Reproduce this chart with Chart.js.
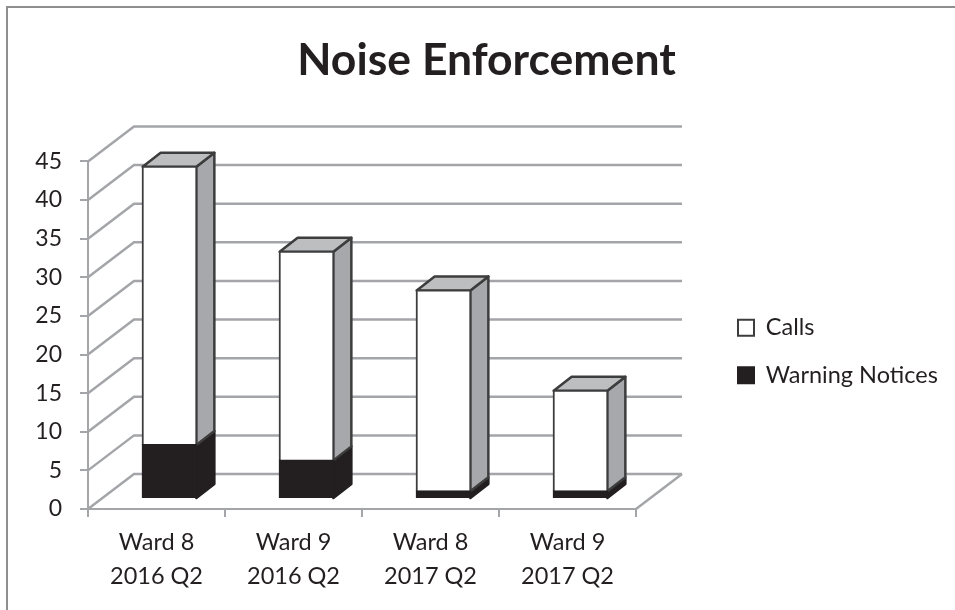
<!DOCTYPE html>
<html>
<head>
<meta charset="utf-8">
<title>Noise Enforcement</title>
<script src="https://cdn.jsdelivr.net/npm/chart.js@4"></script>
<style>
  html, body { margin: 0; background: #fff; }
  canvas { display: block; }
</style>
</head>
<body>
<canvas id="chart" width="955" height="610"></canvas>
<script>
const categories = [["Ward 8", "2016 Q2"], ["Ward 9", "2016 Q2"], ["Ward 8", "2017 Q2"], ["Ward 9", "2017 Q2"]];
const warningNotices = [7, 5, 1, 1];
const calls = [36, 27, 26, 13];

const ink = "#231f20";
const gridGray = "#a3a5a8";

// profundidad del grafico 3D
const wall = { dx: 46, dy: -35 };
const barShift = { dx: 13, dy: -10 };
const barDepth = { dx: 18, dy: -14 };

function poly(ctx, pts, fill, stroke) {
    ctx.beginPath();
    pts.forEach((p, i) => (i ? ctx.lineTo(p[0], p[1]) : ctx.moveTo(p[0], p[1])));
    ctx.closePath();
    ctx.fillStyle = fill;
    ctx.fill();
    ctx.strokeStyle = stroke;
    ctx.lineWidth = 2.5;
    ctx.lineJoin = "round";
    ctx.stroke();
}

const frame3d = {
    id: "frame3d",
    beforeDraw(chart) {
        const ctx = chart.ctx;
        ctx.save();
        ctx.strokeStyle = "#8f8f8f";
        ctx.lineWidth = 2;
        ctx.beginPath();
        ctx.moveTo(7, 610);
        ctx.lineTo(7, 7);
        ctx.lineTo(955, 7);
        ctx.stroke();
        ctx.restore();

        // mover leyenda y titulo a su sitio
        chart.legend.left = 714;
        chart.legend.right = 955;
        chart.legend.top = 292;
        chart.titleBlock.left = 9;
        chart.titleBlock.right = 964;
    },
    beforeDatasetsDraw(chart) {
        const ctx = chart.ctx;
        const yScale = chart.scales.y;
        const { left, right, bottom } = chart.chartArea;
        ctx.save();
        ctx.strokeStyle = gridGray;
        ctx.lineWidth = 2.5;
        // lineas de la pared izquierda y del fondo
        yScale.ticks.forEach(t => {
            const y = yScale.getPixelForValue(t.value);
            ctx.beginPath();
            ctx.moveTo(left, y);
            ctx.lineTo(left + wall.dx, y + wall.dy);
            ctx.lineTo(right + wall.dx, y + wall.dy);
            ctx.stroke();
        });
        // piso
        ctx.beginPath();
        ctx.moveTo(right, bottom);
        ctx.lineTo(right + wall.dx, bottom + wall.dy);
        ctx.stroke();
        ctx.restore();

        // caras lateral y superior de cada barra
        const metas = chart.getSortedVisibleDatasetMetas();
        ctx.save();
        metas.forEach((meta, m) => {
            const isTop = m === metas.length - 1;
            const dark = meta.index === 0;
            meta.data.forEach(bar => {
                const x2 = bar.x + bar.width / 2 + barShift.dx;
                const yTop = bar.y + barShift.dy;
                const yBase = bar.base + barShift.dy;
                poly(ctx, [[x2, yTop], [x2 + barDepth.dx, yTop + barDepth.dy], [x2 + barDepth.dx, yBase + barDepth.dy], [x2, yBase]],
                    dark ? ink : "#a6a8ab", dark ? ink : "#3d3d3d");
                if (isTop) {
                    const x1 = bar.x - bar.width / 2 + barShift.dx;
                    poly(ctx, [[x1, yTop], [x1 + barDepth.dx, yTop + barDepth.dy], [x2 + barDepth.dx, yTop + barDepth.dy], [x2, yTop]],
                        "#bcbec0", "#3d3d3d");
                }
            });
        });
        ctx.restore();
    },
    beforeDatasetDraw(chart) {
        chart.ctx.save();
        chart.ctx.translate(barShift.dx, barShift.dy);
    },
    afterDatasetDraw(chart) {
        chart.ctx.restore();
    }
};

new Chart(document.getElementById("chart"), {
    type: "bar",
    data: {
        labels: categories,
        datasets: [
            { label: "Warning Notices", data: warningNotices, backgroundColor: ink, borderColor: ink, borderWidth: 2, inflateAmount: 1 },
            { label: "Calls", data: calls, backgroundColor: "#ffffff", borderColor: "#3d3d3d", borderWidth: 2, inflateAmount: 1 }
        ]
    },
    options: {
        responsive: false,
        animation: false,
        categoryPercentage: 1,
        barPercentage: 0.392,
        layout: { padding: { left: 0, right: 107, top: 0, bottom: 0 } },
        plugins: {
            tooltip: { enabled: false },
            title: {
                display: true,
                text: "Noise Enforcement",
                color: ink,
                font: { family: "Lato", size: 44.5, weight: "bold" },
                padding: { top: 34, bottom: 74 }
            },
            legend: {
                position: "right",
                align: "start",
                reverse: true,
                labels: {
                    color: ink,
                    boxWidth: 16,
                    boxHeight: 16,
                    padding: 24,
                    font: { family: "Lato", size: 23.5 }
                }
            }
        },
        scales: {
            x: {
                stacked: true,
                afterFit(scale) { scale.height = 101; },
                grid: { drawOnChartArea: false, color: gridGray, lineWidth: 2, tickLength: 8 },
                border: { color: gridGray, width: 2 },
                ticks: { color: ink, maxRotation: 0, padding: 8, font: { family: "Lato", size: 23.5, lineHeight: 1.45 } }
            },
            y: {
                stacked: true,
                min: 0,
                max: 45,
                afterFit(scale) { scale.width = 88; },
                grid: { drawOnChartArea: false, color: gridGray, lineWidth: 2, tickLength: 8 },
                border: { color: gridGray, width: 2 },
                ticks: { stepSize: 5, color: ink, padding: 18, font: { family: "Lato", size: 23 } }
            }
        }
    },
    plugins: [frame3d]
});
</script>
</body>
</html>
